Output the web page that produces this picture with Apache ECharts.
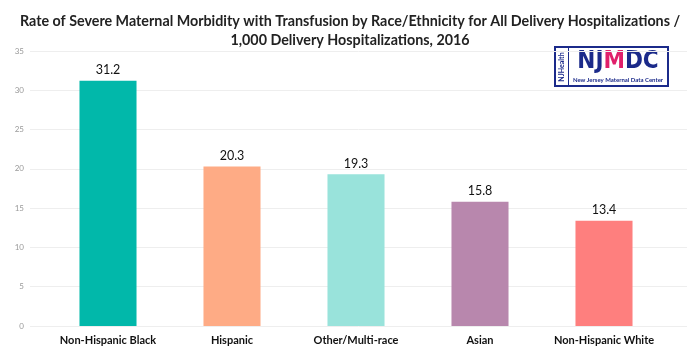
<!DOCTYPE html>
<html>
<head>
<meta charset="utf-8">
<script src="https://cdn.jsdelivr.net/npm/echarts@6/dist/echarts.min.js"></script>
<style>html,body{margin:0;padding:0;background:#fff;}#c{width:700px;height:358px;}</style>
</head>
<body>
<div id="c"></div>
<script>
var titleLines = ['Rate of Severe Maternal Morbidity with Transfusion by Race/Ethnicity for All Delivery Hospitalizations /', '1,000 Delivery Hospitalizations, 2016'];
var categories = ['Non-Hispanic Black', 'Hispanic', 'Other/Multi-race', 'Asian', 'Non-Hispanic White'];
var values = [31.2, 20.3, 19.3, 15.8, 13.4];
var colors = ['#01B8AA', '#FEAB85', '#99E3DB', '#B887AD', '#FE7F7E'];
var yTicks = [0, 5, 10, 15, 20, 25, 30, 35];

var chart = echarts.init(document.getElementById('c'), null, {renderer: 'canvas'});
var font = 'Lato, "Open Sans", sans-serif';
var option = {
  animation: false,
  title: {
    text: titleLines.join('\n'),
    left: 'center', top: 7,
    textStyle: {fontFamily: font, fontSize: 14.3, fontWeight: 'bold', color: '#222', lineHeight: 19}
  },
  grid: [
    {left: 30, right: 13, top: 51, bottom: 32},
    {left: 46, right: 34, top: 51, bottom: 32}
  ],
  xAxis: [
    {gridIndex: 0, type: 'value', min: 0, max: 1, show: false},
    {gridIndex: 1, type: 'category', data: categories,
     axisLine: {show: false}, axisTick: {show: false},
     axisLabel: {interval: 0, color: '#111', fontFamily: font, fontWeight: 'bold', fontSize: 11, margin: 9}}
  ],
  yAxis: [
    {gridIndex: 0, type: 'value', min: yTicks[0], max: yTicks[yTicks.length - 1], interval: 5,
     axisLine: {show: false}, axisTick: {show: false},
     axisLabel: {color: '#999', fontFamily: font, fontSize: 8, margin: 6},
     splitLine: {lineStyle: {color: '#eeeeee', width: 1}}},
    {gridIndex: 1, type: 'value', min: yTicks[0], max: yTicks[yTicks.length - 1], interval: 5, show: false}
  ],
  series: [{
    type: 'bar', xAxisIndex: 1, yAxisIndex: 1,
    data: values.map(function (v, i) { return {value: v, itemStyle: {color: colors[i]}}; }),
    barWidth: '46%',
    label: {show: true, position: 'top', distance: 4, color: '#111', fontFamily: font, fontSize: 12.5,
      formatter: function (p) { return p.value.toFixed(1); }}
  }],
  graphic: [
    {type: 'group', left: 554, top: 46, children: [
      {type: 'rect', shape: {x: 0, y: 0, width: 113, height: 39}, style: {fill: '#fff', stroke: '#1B2A8A', lineWidth: 2}},
      {type: 'rect', shape: {x: 13, y: 0, width: 1, height: 39}, style: {fill: '#1B2A8A'}},
      {type: 'text', x: 7, y: 20, rotation: Math.PI / 2, style: {text: 'NJHealth', fill: '#1B2A8A', font: 'bold 7px ' + font, align: 'center', verticalAlign: 'middle'}},
      {type: 'text', x: 63, y: 3, style: {text: '{a|NJ}{b|M}{a|DC}', align: 'center', rich: {a: {fill: '#1B2A8A', font: 'bold 24px "DejaVu Sans Condensed", "Liberation Sans", sans-serif'}, b: {fill: '#E0206A', font: 'bold 24px "DejaVu Sans Condensed", "Liberation Sans", sans-serif'}}}},
      {type: 'text', x: 63, y: 30, style: {text: 'New Jersey Maternal Data Center', fill: '#1B2A8A', align: 'center', font: 'bold 6px ' + font}}
    ]}
  ]
};
chart.setOption(option);
</script>
</body>
</html>
